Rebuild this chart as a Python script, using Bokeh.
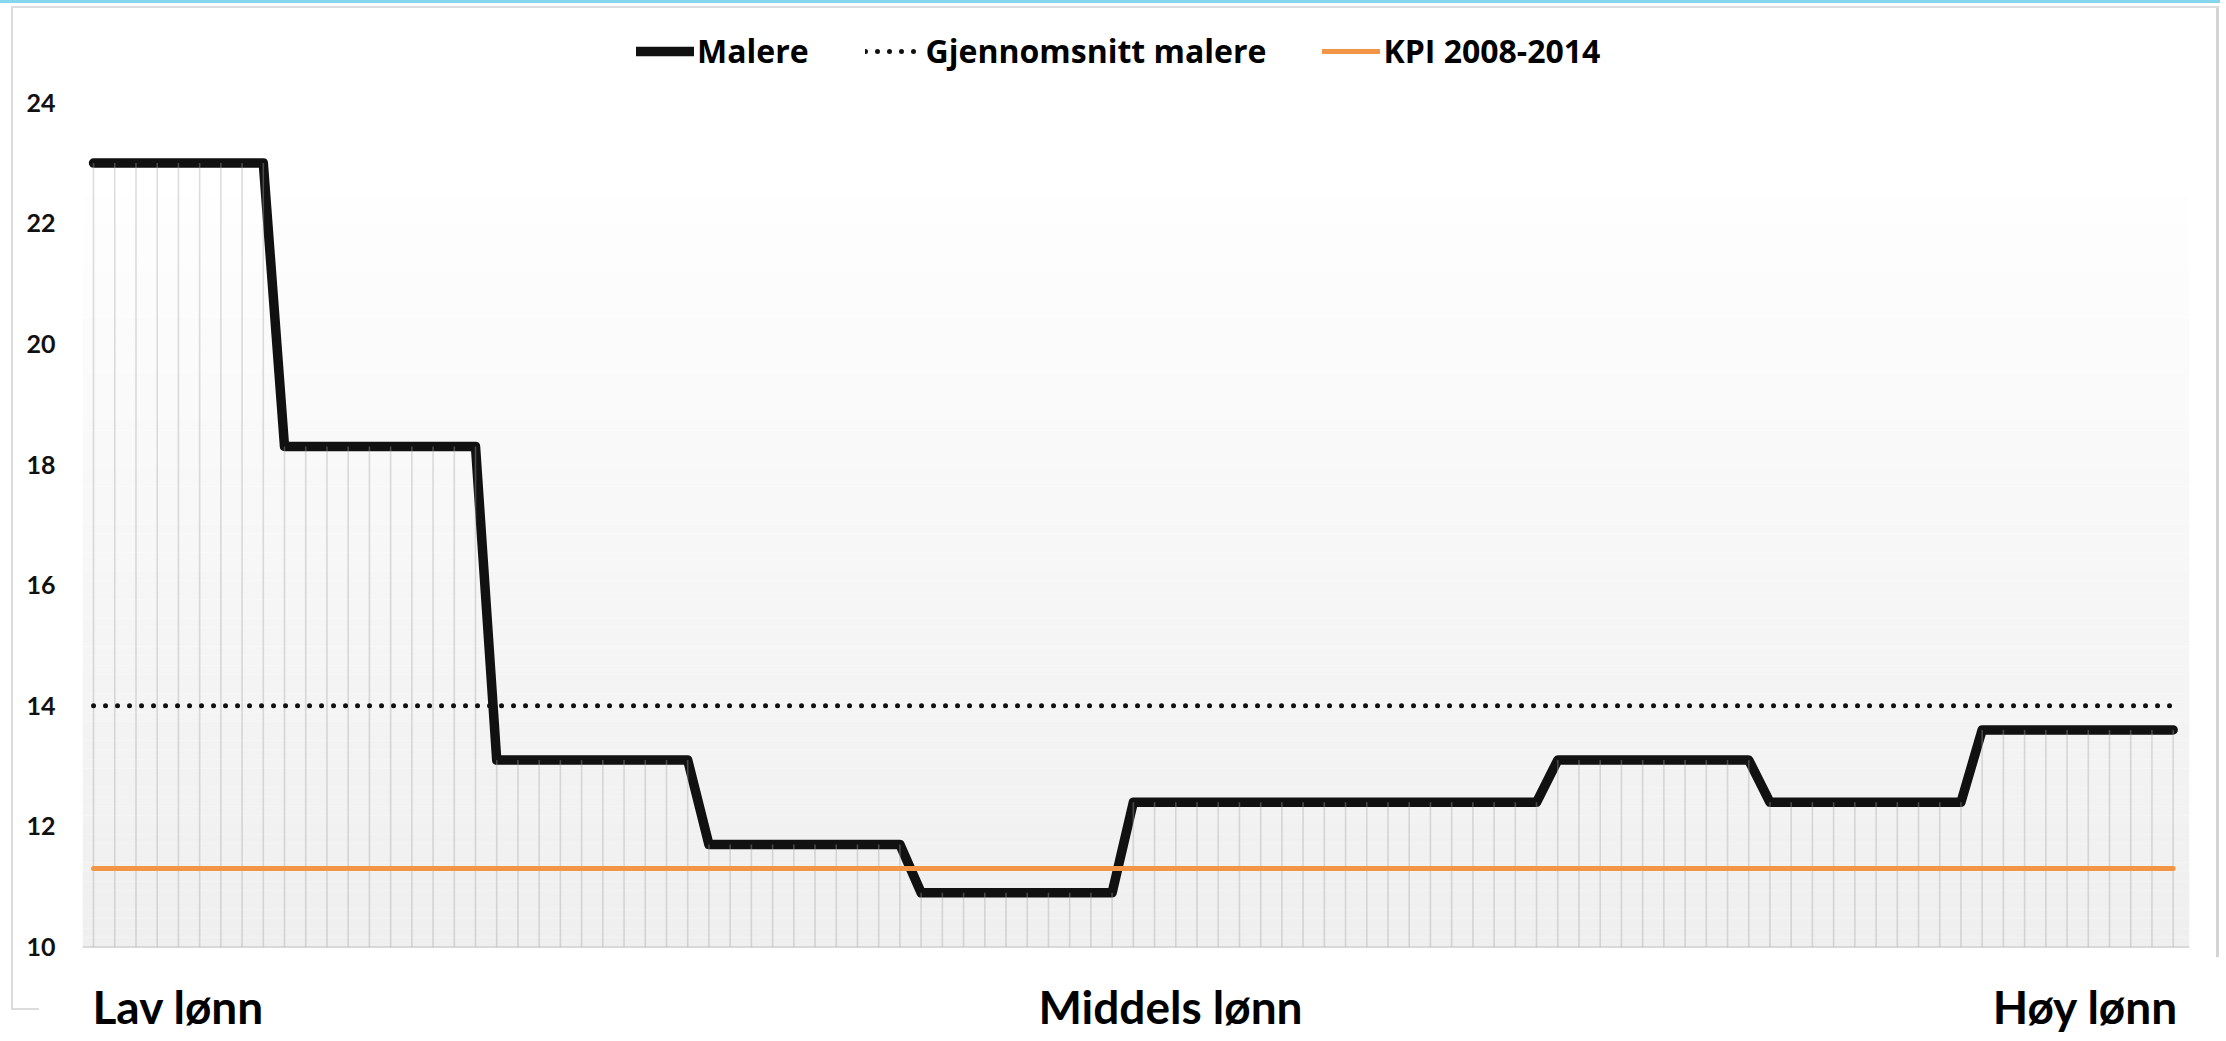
from bokeh.plotting import figure
from bokeh.models import Range1d, FixedTicker, Label, Legend, LegendItem
from bokeh.embed import file_html
from bokeh.resources import INLINE

# ---------------- data ----------------
percentiles = list(range(1, 100))
malere = [
    23.0, 23.0, 23.0, 23.0, 23.0, 23.0, 23.0, 23.0, 23.0,
    18.3, 18.3, 18.3, 18.3, 18.3, 18.3, 18.3, 18.3, 18.3, 18.3,
    13.1, 13.1, 13.1, 13.1, 13.1, 13.1, 13.1, 13.1, 13.1, 13.1,
    11.7, 11.7, 11.7, 11.7, 11.7, 11.7, 11.7, 11.7, 11.7, 11.7,
    10.9, 10.9, 10.9, 10.9, 10.9, 10.9, 10.9, 10.9, 10.9, 10.9,
    12.4, 12.4, 12.4, 12.4, 12.4, 12.4, 12.4, 12.4, 12.4, 12.4,
    12.4, 12.4, 12.4, 12.4, 12.4, 12.4, 12.4, 12.4, 12.4, 12.4,
    13.1, 13.1, 13.1, 13.1, 13.1, 13.1, 13.1, 13.1, 13.1, 13.1,
    12.4, 12.4, 12.4, 12.4, 12.4, 12.4, 12.4, 12.4, 12.4, 12.4,
    13.6, 13.6, 13.6, 13.6, 13.6, 13.6, 13.6, 13.6, 13.6, 13.6,
]
avg_malere = 14.0
kpi_2008_2014 = 11.3
y_ticks = [10, 12, 14, 16, 18, 20, 22, 24]
x_labels = ["Lav lønn", "Middels lønn", "Høy lønn"]
legend_labels = ["Malere", "Gjennomsnitt malere", "KPI 2008-2014"]

# ---------------- layout / style ----------------
W, H = 2220, 1034
X0, X1 = 0.48, 99.77
BASE = 10
Y0, Y1 = 8.549, 25.365
GRAD_TOP = 22.46

p = figure(width=W, height=H, output_backend="svg", toolbar_location=None,
           x_range=Range1d(X0, X1), y_range=Range1d(Y0, Y1),
           min_border_left=82, min_border_right=31, min_border_top=20,
           min_border_bottom=0)
p.outline_line_color = None
p.grid.visible = False
p.xaxis.visible = False
p.background_fill_color = "white"
p.border_fill_color = None
# decorative chart frame: light-blue strip on top, thin grey box
p.styles = {
    "background": (
        "linear-gradient(#86d6ee,#86d6ee) 0px 0px / 100% 3px no-repeat, "
        "linear-gradient(#dcdcdc,#dcdcdc) 11px 6px / 2207px 2px no-repeat, "
        "linear-gradient(#dcdcdc,#dcdcdc) 11px 6px / 2px 1004px no-repeat, "
        "linear-gradient(#d4d4d4,#d4d4d4) 2216px 6px / 3px 951px no-repeat, "
        "linear-gradient(#dcdcdc,#dcdcdc) 11px 1008px / 28px 2px no-repeat, "
        "white"
    )
}

# background gradient of plot area
n = 80
bottoms, tops, cols = [], [], []
for k in range(n):
    b = BASE + (GRAD_TOP - BASE) * k / n
    t = BASE + (GRAD_TOP - BASE) * (k + 1) / n
    f = (k + 0.5) / n
    c = int(round(0xef + (0xfe - 0xef) * f))
    bottoms.append(b)
    tops.append(t)
    cols.append("#%02x%02x%02x" % (c, c, c))
p.quad(left=X0, right=X1, bottom=bottoms, top=tops, fill_color=cols, line_color=None)

# category axis base line
p.segment(x0=[X0], y0=[BASE], x1=[X1], y1=[BASE], line_color="#d9d9d9", line_width=2)

# main line
r_mal = p.line(percentiles, malere, line_color="#111111", line_width=9.5,
               line_join="round", line_cap="round")

# drop lines
p.segment(x0=percentiles, y0=[BASE] * len(percentiles), x1=percentiles, y1=malere,
          line_color="#a6a6a6", line_alpha=0.38, line_width=1.6)

# KPI line
xs_full = [percentiles[0], percentiles[-1]]
r_kpi = p.line(xs_full, [kpi_2008_2014, kpi_2008_2014], line_color="#f29544",
               line_width=5, line_cap="round")
# average line
r_avg = p.line(xs_full, [avg_malere, avg_malere], line_color="#111111",
               line_width=5, line_dash="0 12", line_cap="round")

# y axis
p.yaxis.ticker = FixedTicker(ticks=y_ticks)
p.yaxis.axis_line_color = None
p.yaxis.major_tick_line_color = None
p.yaxis.minor_tick_line_color = None
p.yaxis.major_tick_out = 0
p.yaxis.major_tick_in = 0
p.yaxis.major_label_standoff = 27
p.yaxis.major_label_text_font = "Lato"
p.yaxis.major_label_text_font_style = "bold"
p.yaxis.major_label_text_font_size = "25px"
p.yaxis.major_label_text_color = "#111111"

# bottom category labels
label_y = 9.013
label_x = [0.95, 51.75, 99.24]
aligns = ["left", "center", "right"]
for txt, lx, al in zip(x_labels, label_x, aligns):
    p.add_layout(Label(x=lx, y=label_y, text=txt, text_align=al,
                       text_baseline="middle", text_font="Lato",
                       text_font_style="bold", text_font_size="46px",
                       text_color="#000000"))

# legend
legend = Legend(items=[LegendItem(label=legend_labels[0], renderers=[r_mal]),
                       LegendItem(label=legend_labels[1], renderers=[r_avg]),
                       LegendItem(label=legend_labels[2], renderers=[r_kpi])],
                orientation="horizontal", location=(554, 962))
legend.label_text_font = "Open Sans"
legend.label_text_font_style = "bold"
legend.label_text_font_size = "32px"
legend.label_text_color = "#000000"
legend.glyph_width = 58
legend.glyph_height = 36
legend.label_height = 36
legend.label_standoff = 3
legend.spacing = 56
legend.padding = 6
legend.margin = 0
legend.border_line_color = None
legend.background_fill_alpha = 0
p.add_layout(legend)

open("out.html", "w").write(file_html(p, INLINE))
